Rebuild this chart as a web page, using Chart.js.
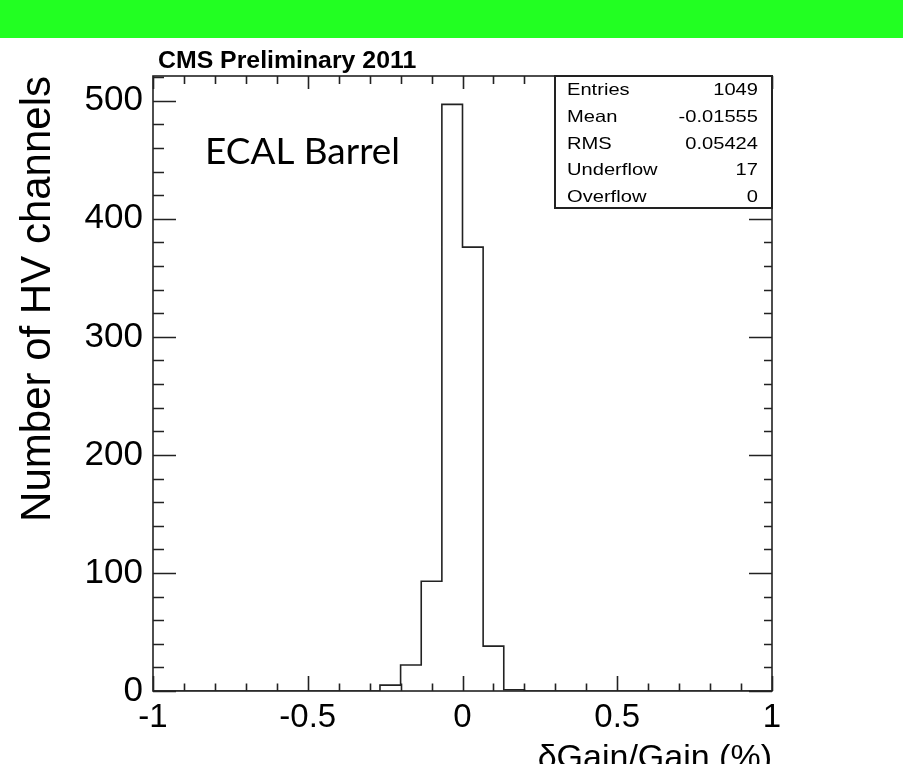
<!DOCTYPE html>
<html>
<head>
<meta charset="utf-8">
<script src="https://cdn.jsdelivr.net/npm/chart.js@4.4.0/dist/chart.umd.min.js"></script>
<style>
html, body { margin: 0; padding: 0; background: #fff; overflow: hidden; width: 903px; height: 764px; }
#band { position: absolute; left: 0; top: 0; width: 903px; height: 38px; background: #22ff22; }
#wrap { position: absolute; left: 0; top: 38px; width: 903px; height: 760px; }
</style>
</head>
<body>
<div id="band"></div>
<div id="wrap"><canvas id="myChart" width="903" height="760"></canvas></div>
<script>
// histogram: 30 bins between -1 and 1
const binLow = -1;
const binHigh = 1;
const binCounts = [0, 0, 0, 0, 0, 0, 0, 0, 0, 0, 0, 5, 22, 93, 497, 376, 38, 1, 0, 0, 0, 0, 0, 0, 0, 0, 0, 0, 0, 0];
const xMajorTicks = [-1, -0.5, 0, 0.5, 1];
const yMajorTicks = [0, 100, 200, 300, 400, 500];
const yMax = 521;
const statLabels = ["Entries", "Mean", "RMS", "Underflow", "Overflow"];
const statValues = ["1049", "-0.01555", "0.05424", "17", "0"];

const FONT = "'Liberation Sans', Arial, Helvetica, sans-serif";

// bin edges -> stepped line points (value i holds from edge i to edge i+1)
const binWidth = (binHigh - binLow) / binCounts.length;
let points = binCounts.map((c, i) => ({ x: binLow + i * binWidth, y: c }));
points.push({ x: binHigh, y: binCounts[binCounts.length - 1] });

// frame, inner ticks, stats box and labels
const frameTicks = {
    id: 'frameTicks',
    afterDatasetsDraw(chart) {
        const c = chart.ctx;
        const a = chart.chartArea;
        const xs = chart.scales.x;
        const ys = chart.scales.y;
        c.save();
        c.strokeStyle = '#222';
        c.lineWidth = 1.6;
        c.strokeRect(a.left, a.top, a.right - a.left, a.bottom - a.top);

        c.beginPath();
        // y ticks every 20, major every 100
        for (let v = 0; v <= yMax; v += 20) {
            const p = Math.round(ys.getPixelForValue(v)) + 0.5;
            const major = v % 100 === 0;
            c.moveTo(a.left, p); c.lineTo(a.left + (major ? 23 : 11), p);
            c.moveTo(a.right, p); c.lineTo(a.right - (major ? 23 : 8), p);
        }
        // x ticks every 0.1, major every 0.5
        for (let k = -10; k <= 10; k++) {
            const p = Math.round(xs.getPixelForValue(k / 10)) + 0.5;
            const major = k % 5 === 0;
            c.moveTo(p, a.bottom); c.lineTo(p, a.bottom - (major ? 15 : 7.5));
            c.moveTo(p, a.top); c.lineTo(p, a.top + (major ? 13 : 8));
        }
        c.stroke();

        // stats box
        const bx = a.right - 217, by = a.top, bw = 217, bh = 132;
        c.fillStyle = '#fff';
        c.fillRect(bx, by, bw, bh);
        c.lineWidth = 2;
        c.strokeRect(bx, by, bw, bh);
        c.fillStyle = '#000';
        c.font = '16.5px ' + FONT;
        c.textBaseline = 'alphabetic';
        statLabels.forEach((lab, i) => {
            const y = by + 19 + i * 26.8;
            c.save();
            c.translate(bx + 12, y);
            c.scale(1.22, 1);
            c.textAlign = 'left';
            c.fillText(lab, 0, 0);
            c.restore();
            c.save();
            c.translate(a.right - 14, y);
            c.scale(1.22, 1);
            c.textAlign = 'right';
            c.fillText(statValues[i], 0, 0);
            c.restore();
        });

        // header
        c.save();
        c.font = 'bold 23px ' + FONT;
        c.textAlign = 'left';
        c.translate(158, a.top - 8);
        c.scale(1.08, 1);
        c.fillText('CMS Preliminary 2011', 0, 0);
        c.restore();

        // detector label
        c.save();
        c.font = '37px Lato, "Open Sans", sans-serif';
        c.textAlign = 'left';
        const w = c.measureText('ECAL Barrel').width;
        c.translate(205, a.top + 88);
        c.scale(195 / w, 1);
        c.fillText('ECAL Barrel', 0, 0);
        c.restore();

        c.restore();
    }
};

const ctx = document.getElementById('myChart').getContext('2d');

const chart = new Chart(ctx, {
    type: 'line',
    data: {
        datasets: [{
            label: 'HV channels',
            data: points,
            stepped: 'before',
            borderColor: '#222',
            borderWidth: 1.6,
            pointRadius: 0,
            fill: false,
        }]
    },
    options: {
        responsive: false,
        animation: false,
        devicePixelRatio: 1,
        layout: { padding: { left: 0, right: 131, top: 38, bottom: 0 } },
        plugins: {
            legend: { display: false },
            tooltip: { enabled: false },
        },
        scales: {
            x: {
                type: 'linear',
                min: binLow,
                max: binHigh,
                grid: { display: false, drawTicks: false },
                border: { display: false },
                afterBuildTicks: (s) => { s.ticks = xMajorTicks.map(v => ({ value: v })); },
                afterFit: (s) => { s.height = 107; },
                ticks: {
                    color: '#000',
                    font: { family: FONT, size: 33 },
                    padding: 7,
                    maxRotation: 0,
                    autoSkip: false,
                    callback: (v) => String(v),
                },
                title: {
                    display: true,
                    text: 'δGain/Gain (%)',
                    align: 'end',
                    color: '#000',
                    font: { family: FONT, size: 34 },
                    padding: { top: 0, bottom: 19 },
                },
            },
            y: {
                min: 0,
                max: yMax,
                grid: { display: false, drawTicks: false },
                border: { display: false },
                afterBuildTicks: (s) => { s.ticks = yMajorTicks.map(v => ({ value: v })); },
                afterFit: (s) => { s.width = 153; },
                ticks: {
                    color: '#000',
                    font: { family: FONT, size: 35 },
                    padding: 10,
                    callback: (v) => String(v),
                },
                title: {
                    display: true,
                    text: 'Number of HV channels',
                    align: 'end',
                    color: '#000',
                    font: { family: FONT, size: 42 },
                    padding: { top: 13, bottom: 0 },
                },
            }
        }
    },
    plugins: [frameTicks]
});
</script>
</body>
</html>
